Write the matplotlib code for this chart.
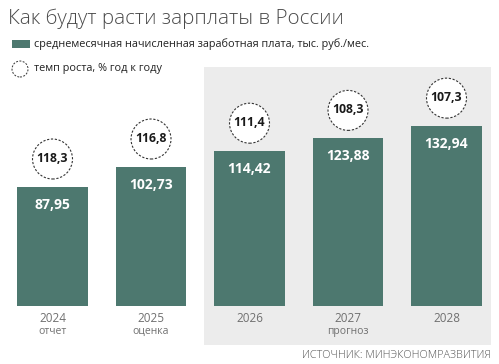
import matplotlib
matplotlib.use("Agg")
import matplotlib.pyplot as plt
from matplotlib.patches import Rectangle, Ellipse
from matplotlib.transforms import offset_copy

years = ["2024", "2025", "2026", "2027", "2028"]
sublabels = ["отчет", "оценка", "", "прогноз", ""]
wages = [87.95, 102.73, 114.42, 123.88, 132.94]
growth = [118.3, 116.8, 111.4, 108.3, 107.3]

def fmt(v, nd):
    return f"{v:.{nd}f}".replace(".", ",")

W, H = 499, 364
fig = plt.figure(figsize=(W / 100, H / 100), dpi=100)
fig.patch.set_facecolor("white")
plt.rcParams['font.family'] = ['Open Sans', 'DejaVu Sans']

bar_color = "#4d786f"
gray_text = "#707070"

def fx(px): return px / W
def fy(py): return 1 - py / H

# gray forecast panel
panel = Rectangle((fx(204), fy(345)), fx(491) - fx(204), fy(67) - fy(345),
                  transform=fig.transFigure, facecolor="#ececec",
                  edgecolor="none", zorder=-5)
fig.add_artist(panel)

# axes: bar baseline at pixel y=306, 1.353 px per unit
px_per_unit = 1.353
ymax = 190
ax_h = ymax * px_per_unit
ax = fig.add_axes([3.25 / W, (H - 306) / H, 492.5 / W, ax_h / H])
ax.set_zorder(2)
ax.set_xlim(-0.5, 4.5)
ax.set_ylim(0, ymax)
ax.axis("off")
ax.patch.set_alpha(0)

x = list(range(len(years)))
ax.bar(x, wages, width=0.72, color=bar_color, zorder=2)

for i, (v, g) in enumerate(zip(wages, growth)):
    ax.annotate(fmt(v, 2), (i, v), xytext=(0, -13), textcoords="offset points",
                ha="center", va="center", color="white", fontsize=10,
                fontweight="bold", zorder=3)
    ax.annotate(fmt(g, 1), (i, v), xytext=(0, 20.5), textcoords="offset points",
                ha="center", va="center", color="#1a1a1a", fontsize=8.8,
                fontweight="bold", zorder=4)
    ax.annotate(years[i], (i, 0), xytext=(0, -9), textcoords="offset points",
                ha="center", va="center", color=gray_text, fontsize=8.5,
                annotation_clip=False)
    if sublabels[i]:
        ax.annotate(sublabels[i], (i, 0), xytext=(0, -18.5), textcoords="offset points",
                    ha="center", va="center", color=gray_text, fontsize=7.5,
                    annotation_clip=False)

circ_tr = offset_copy(ax.transData, fig=fig, x=0, y=28, units="dots")
ax.scatter(x, wages, s=(40 * 0.72) ** 2, facecolor="white", edgecolor="#333333",
           linewidths=0.8, linestyles=(0, (2, 1.5)), transform=circ_tr, zorder=3,
           clip_on=False)

# title
fig.text(fx(8), fy(18.5), "Как будут расти зарплаты в России", ha="left", va="center",
         fontsize=14.8, color="#4a4a4a", fontweight="light")

# legend
fig.add_artist(Rectangle((fx(12), fy(48)), fx(30) - fx(12), fy(40) - fy(48),
                         transform=fig.transFigure, facecolor=bar_color,
                         edgecolor="none"))
fig.text(fx(34), fy(44), "среднемесячная начисленная заработная плата, тыс. руб./мес.",
         ha="left", va="center", fontsize=7.8, color="#222222")
fig.add_artist(Ellipse((fx(20), fy(69)), width=16 / W, height=16 / H,
                       transform=fig.transFigure, facecolor="white",
                       edgecolor="#333333", linewidth=0.7,
                       linestyle=(0, (2, 1.5))))
fig.text(fx(34), fy(68), "темп роста, % год к году",
         ha="left", va="center", fontsize=7.8, color="#222222")

fig.text(fx(491), fy(355), "ИСТОЧНИК: МИНЭКОНОМРАЗВИТИЯ", ha="right", va="center",
         fontsize=7.8, color="#555555", fontweight="light")

fig.savefig("out.png", dpi=100)
